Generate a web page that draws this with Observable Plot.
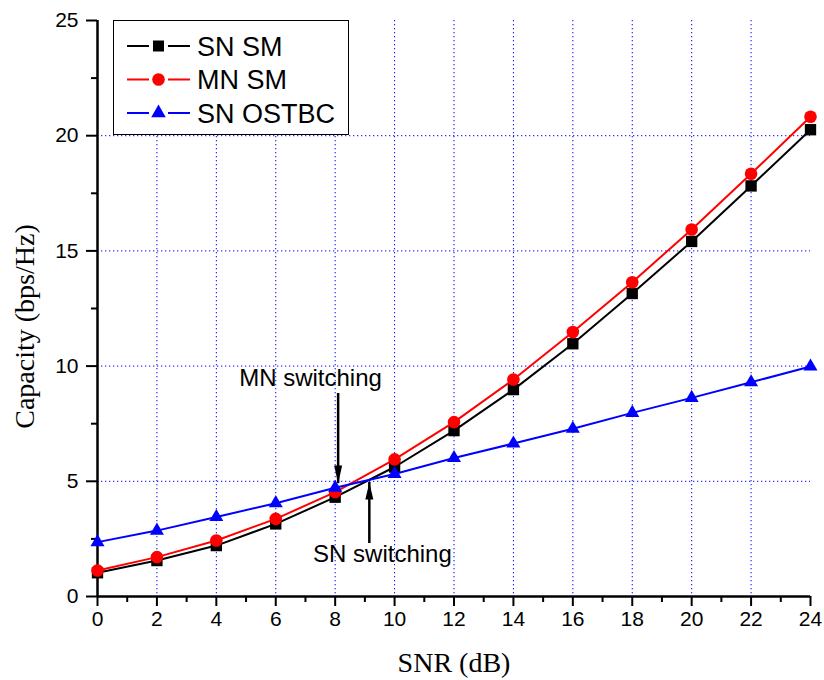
<!DOCTYPE html>
<html><head><meta charset="utf-8">
<script src="https://cdn.jsdelivr.net/npm/d3@7"></script>
<script src="https://cdn.jsdelivr.net/npm/@observablehq/plot@0.6"></script>
<style>body{margin:0;background:#fff} #wrap{position:relative;width:824px;height:680px}</style>
</head><body><div id="wrap"></div>
<script>
// ---- data ----
const snr = [0, 2, 4, 6, 8, 10, 12, 14, 16, 18, 20, 22, 24];
const snSM    = [1.03, 1.56, 2.21, 3.15, 4.31, 5.62, 7.20, 8.98, 10.97, 13.15, 15.41, 17.82, 20.26];
const mnSM    = [1.13, 1.71, 2.43, 3.37, 4.53, 5.95, 7.57, 9.42, 11.48, 13.64, 15.93, 18.35, 20.82];
const snOSTBC = [2.36, 2.86, 3.45, 4.05, 4.72, 5.32, 6.01, 6.64, 7.28, 7.97, 8.62, 9.30, 9.98];
const seriesNames = ["SN SM", "MN SM", "SN OSTBC"];
const seriesValues = [snSM, mnSM, snOSTBC];
const seriesColors = ["#000000", "#ff0000", "#0000ff"];
const seriesSymbols = ["square", "circle", "triangle"];
const xTicks = [0, 2, 4, 6, 8, 10, 12, 14, 16, 18, 20, 22, 24];
const xMinor = [1, 3, 5, 7, 9, 11, 13, 15, 17, 19, 21, 23];
const yTicks = [0, 5, 10, 15, 20, 25];
const yMinor = [2.5, 7.5, 12.5, 17.5, 22.5];
const xGrid = [2, 4, 6, 8, 10, 12, 14, 16, 18, 20, 22];
const yGrid = [5, 10, 15, 20];
const xTitle = "SNR (dB)";
const yTitle = "Capacity (bps/Hz)";
// annotations (data coordinates)
const annoText = [
  {label: "MN switching", x: 7.17, y: 9.49},
  {label: "SN switching", x: 9.59, y: 1.85}
];
const annoArrows = [
  {x: 8.1, yFrom: 8.81, yTip: 4.9, dir: "down"},
  {x: 9.15, yFrom: 2.3, yTip: 4.95, dir: "up"}
];

const rows = [];
seriesNames.forEach((name, i) => snr.forEach((x, j) => rows.push({series: name, x, y: seriesValues[i][j]})));

const headDown = {draw(ctx) { ctx.moveTo(0, 0); ctx.lineTo(-4, -18); ctx.lineTo(4, -18); ctx.closePath(); }};
const headUp = {draw(ctx) { ctx.moveTo(0, 0); ctx.lineTo(-4, 17); ctx.lineTo(4, 17); ctx.closePath(); }};

const sans = "Arial, 'Liberation Sans', sans-serif";
const serif = "'Times New Roman', 'Liberation Serif', serif";

const seriesMarks = [];
seriesNames.forEach((name, i) => {
  const d = rows.filter(r => r.series === name);
  seriesMarks.push(Plot.line(d, {x: "x", y: "y", stroke: seriesColors[i], strokeWidth: 2}));
  seriesMarks.push(Plot.dot(d, {x: "x", y: "y", symbol: seriesSymbols[i], fill: seriesColors[i], stroke: "none",
    r: seriesSymbols[i] === "square" ? 6.4 : seriesSymbols[i] === "circle" ? 6.3 : 5.2}));
});

const chart = Plot.plot({
  width: 824, height: 680,
  marginLeft: 97, marginRight: 14, marginTop: 20, marginBottom: 84,
  style: {fontFamily: sans, background: "#fff"},
  x: {domain: [0, 24]},
  y: {domain: [0, 25]},
  marks: [
    Plot.gridX(xGrid, {stroke: "#0000ff", strokeOpacity: 1, strokeWidth: 1, strokeDasharray: "1.3,2.7"}),
    Plot.gridY(yGrid, {stroke: "#0000ff", strokeOpacity: 1, strokeWidth: 1, strokeDasharray: "1.3,2.7"}),
    Plot.axisX(xTicks, {tickSize: 10, tickPadding: 5, fontSize: 21, fontFamily: sans, label: null, strokeWidth: 2, color: "#000"}),
    Plot.axisX(xMinor, {tickSize: 6, tickFormat: () => "", label: null, strokeWidth: 2}),
    Plot.axisY(yTicks, {tickSize: 11, tickPadding: 8, fontSize: 21, fontFamily: sans, label: null, strokeWidth: 2, color: "#000"}),
    Plot.axisY(yMinor, {tickSize: 6, tickFormat: () => "", label: null, strokeWidth: 2}),
    Plot.ruleX([0], {stroke: "#000", strokeWidth: 2.5}),
    Plot.ruleY([0], {stroke: "#000", strokeWidth: 2.5}),
    ...seriesMarks,
    Plot.ruleX(annoArrows, {x: "x", y1: "yFrom", y2: "yTip", stroke: "#000", strokeWidth: 2.5}),
    Plot.dot(annoArrows, {x: "x", y: "yTip", symbol: d => d.dir === "down" ? headDown : headUp, fill: "#000", stroke: "none"}),
    Plot.text(annoText, {x: "x", y: "y", text: "label", fontSize: 24, fontFamily: sans, fill: "#000", textAnchor: "middle"}),
    Plot.text([xTitle], {frameAnchor: "bottom", textAnchor: "middle", lineAnchor: "middle", dy: 67, fontSize: 28, fontFamily: serif, fill: "#000"}),
    Plot.text([yTitle], {frameAnchor: "left", textAnchor: "middle", lineAnchor: "middle", dx: -72, dy: 18, rotate: -90, fontSize: 28, fontFamily: serif, fill: "#000"})
  ]
});
document.getElementById("wrap").appendChild(chart);

// legend inside plot area (layout in pixels)
const svg = d3.select(chart);
const lg = svg.append("g").attr("transform", "translate(113,20)");
lg.append("rect").attr("x", 0.5).attr("y", 0.5).attr("width", 235).attr("height", 114)
  .attr("fill", "#fff").attr("stroke", "#000").attr("stroke-width", 1);
const rowY = [26, 59.5, 93];
const symMap = {square: d3.symbolSquare, circle: d3.symbolCircle, triangle: d3.symbolTriangle};
seriesNames.forEach((name, i) => {
  const g = lg.append("g").attr("transform", `translate(0,${rowY[i]})`);
  g.append("line").attr("x1", 14).attr("x2", 36).attr("stroke", seriesColors[i]).attr("stroke-width", 2);
  g.append("line").attr("x1", 55).attr("x2", 77).attr("stroke", seriesColors[i]).attr("stroke-width", 2);
  const r = seriesSymbols[i] === "square" ? 6.2 : seriesSymbols[i] === "circle" ? 6.3 : 5.4;
  g.append("path").attr("transform", "translate(45.5,0)")
    .attr("d", d3.symbol(symMap[seriesSymbols[i]], r * r * Math.PI)()).attr("fill", seriesColors[i]);
  g.append("text").attr("x", 84).attr("y", 9.5).attr("font-size", 27).attr("font-family", sans)
    .attr("text-anchor", "start").attr("fill", "#000").text(name);
});
</script>
</body></html>
